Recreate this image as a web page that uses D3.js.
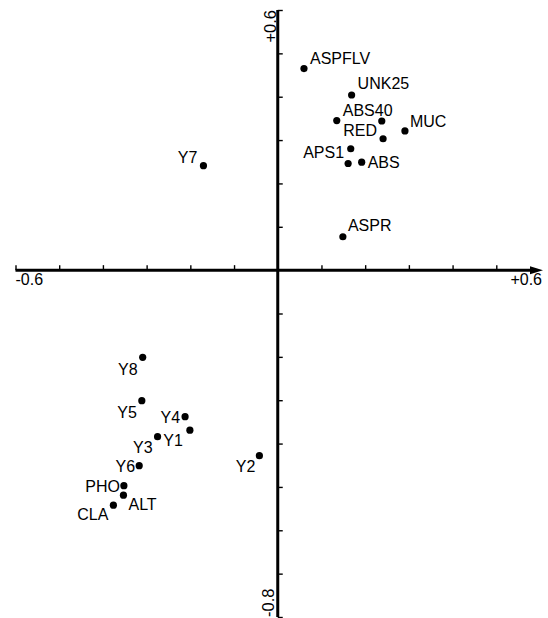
<!DOCTYPE html>
<html>
<head>
<meta charset="utf-8">
<script src="https://cdn.jsdelivr.net/npm/d3@7"></script>
<style>
  html, body { margin: 0; padding: 0; background: #fff; }
  svg { display: block; }
  text { font-family: "Liberation Sans", Arial, Helvetica, sans-serif; fill: #000; }
</style>
</head>
<body>
<svg id="chart" width="548" height="618"></svg>
<script>
// Variable names and their coordinates on the first two factor axes
const names = ["ASPFLV", "UNK25", "ABS40", "", "RED", "MUC", "", "APS1", "ABS", "Y7", "ASPR",
               "Y8", "Y5", "Y4", "Y1", "Y3", "Y6", "Y2", "PHO", "ALT", "CLA"];
const xValues = [0.060, 0.169, 0.135, 0.238, 0.241, 0.291, 0.167, 0.161, 0.192, -0.170, 0.149,
                 -0.309, -0.311, -0.212, -0.201, -0.275, -0.317, -0.042, -0.352, -0.353, -0.376];
const yValues = [0.465, 0.404, 0.345, 0.344, 0.303, 0.321, 0.280, 0.246, 0.249, 0.241, 0.077,
                 -0.201, -0.301, -0.338, -0.369, -0.384, -0.451, -0.428, -0.497, -0.519, -0.542];

// Axis ranges and tick marks
const xDomain = [-0.6, 0.6];
const yDomain = [-0.8, 0.6];
const xTickValues = [-0.6, -0.5, -0.4, -0.3, -0.2, -0.1, 0.1, 0.2, 0.3, 0.4, 0.5];
const yTickValues = [0.6, 0.5, 0.4, 0.3, 0.2, 0.1, -0.1, -0.2, -0.3, -0.4, -0.5, -0.6, -0.7, -0.8];
const xEndLabels = ["-0.6", "+0.6"];
const yEndLabels = ["+0.6", "-0.8"];

// Where each label sits relative to its point: [text-anchor, dx, baseline dy]
const labelPlacement = {
  ASPFLV: ["start", 6, -5], UNK25: ["start", 6, -6], ABS40: ["start", 6, -5],
  RED: ["end", -6, -3], MUC: ["start", 5, -4], APS1: ["end", -4, -5],
  ABS: ["start", 6, 6], Y7: ["end", -6, -3], ASPR: ["start", 5, -6],
  Y8: ["end", -5, 18], Y5: ["end", -5, 17], Y4: ["end", -5, 6], Y1: ["end", -7, 16],
  Y3: ["end", -5, 16], Y6: ["end", -4, 6], Y2: ["end", -4, 16],
  PHO: ["end", -4, 6], ALT: ["start", 5, 15], CLA: ["end", -5, 15]
};

const points = names.map((n, i) => ({ name: n, x: xValues[i], y: yValues[i] }));

const svg = d3.select("#chart");
const x = d3.scaleLinear().domain(xDomain).range([15.5, 540]);
const y = d3.scaleLinear().domain(yDomain).range([617, 10]);
const x0 = x(0), y0 = y(0);

// Tick marks (drawn with D3 axes, domain path hidden)
svg.append("g")
  .attr("transform", `translate(0,${y0})`)
  .call(d3.axisTop(x).tickValues(xTickValues).tickSize(5).tickFormat(""))
  .call(g => g.select(".domain").remove())
  .call(g => g.selectAll("line").attr("stroke", "#000").attr("stroke-width", 1.4));

svg.append("g")
  .attr("transform", `translate(${x0},0)`)
  .call(d3.axisRight(y).tickValues(yTickValues).tickSize(5).tickFormat(""))
  .call(g => g.select(".domain").remove())
  .call(g => g.selectAll("line").attr("stroke", "#000").attr("stroke-width", 1.4));

// Main axis lines
svg.append("line")
  .attr("x1", x(xDomain[0])).attr("x2", x(xDomain[1]) - 4)
  .attr("y1", y0).attr("y2", y0)
  .attr("stroke", "#000").attr("stroke-width", 3);

svg.append("line")
  .attr("x1", x0).attr("x2", x0)
  .attr("y1", y(yDomain[1])).attr("y2", y(yDomain[0]))
  .attr("stroke", "#000").attr("stroke-width", 3);

// Arrowhead on the horizontal axis
const xe = x(xDomain[1]);
svg.append("path")
  .attr("d", `M${xe - 10},${y0 - 4} L${xe + 3},${y0} L${xe - 10},${y0 + 4} Z`)
  .attr("fill", "#000");

// End labels of the axes
svg.append("text").attr("x", x(xDomain[0])).attr("y", y0 + 15)
  .attr("font-size", 16).attr("text-anchor", "start").text(xEndLabels[0]);
svg.append("text").attr("x", xe + 2).attr("y", y0 + 15)
  .attr("font-size", 16).attr("text-anchor", "end").text(xEndLabels[1]);

svg.append("text")
  .attr("transform", `translate(${x0 - 2},${y(yDomain[1])}) rotate(-90)`)
  .attr("font-size", 16.5).attr("text-anchor", "end").text(yEndLabels[0]);
svg.append("text")
  .attr("transform", `translate(${x0 - 4},${y(yDomain[0])}) rotate(-90)`)
  .attr("font-size", 16.5).attr("text-anchor", "start").text(yEndLabels[1]);

// Points
svg.append("g").selectAll("circle")
  .data(points)
  .join("circle")
  .attr("cx", d => x(d.x))
  .attr("cy", d => y(d.y))
  .attr("r", 3.6)
  .attr("fill", "#000");

// Point labels
svg.append("g").selectAll("text")
  .data(points.filter(d => d.name))
  .join("text")
  .attr("font-size", 16)
  .attr("text-anchor", d => labelPlacement[d.name][0])
  .attr("x", d => x(d.x) + labelPlacement[d.name][1])
  .attr("y", d => y(d.y) + labelPlacement[d.name][2])
  .text(d => d.name);
</script>
</body>
</html>
